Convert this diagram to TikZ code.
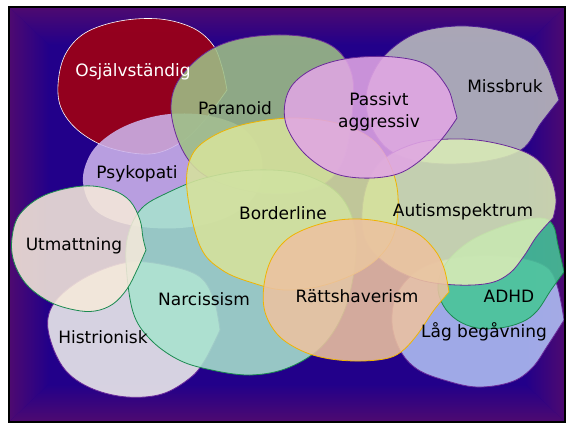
\documentclass[tikz,border=0pt]{standalone}
\usepackage{fontspec}
\setmainfont{DejaVu Sans}
\definecolor{bgblue}{HTML}{22008A}
\definecolor{edgep}{HTML}{4E0A70}
\definecolor{cRed}{HTML}{98001A}
\definecolor{cPsy}{RGB}{205,180,236}
\definecolor{cMis}{RGB}{187,189,190}
\definecolor{cPar}{RGB}{158,192,134}
\definecolor{cHis}{RGB}{240,240,238}
\definecolor{cNar}{RGB}{168,226,206}
\definecolor{cLag}{RGB}{177,193,245}
\definecolor{cAdh}{RGB}{70,198,150}
\definecolor{cAut}{RGB}{218,236,182}
\definecolor{cBor}{RGB}{214,226,156}
\definecolor{cPas}{RGB}{225,166,228}
\definecolor{cUtm}{RGB}{245,233,218}
\definecolor{cRat}{RGB}{236,194,160}
\definecolor{lPurple}{HTML}{6A2A9A}
\definecolor{lGreen}{HTML}{1A8A50}
\definecolor{lYellow}{HTML}{F0B400}
\begin{document}
\begin{tikzpicture}[x=1pt,y=-1pt,
  blob/.style={fill opacity=0.88, line width=0.8pt},
  lbl/.style={font=\fontsize{17}{22}\selectfont, text=black, inner sep=0pt, align=center}]
\useasboundingbox (0,0) rectangle (568,424);
\fill[white] (0,0) rectangle (568,424);
% background
\fill[bgblue] (9,7) rectangle (565,422);
\shade[top color=edgep, bottom color=bgblue] (9,7) -- (565,7) -- (525,45) -- (49,45) -- cycle;
\shade[left color=edgep, right color=bgblue] (9,7) -- (49,45) -- (49,384) -- (9,422) -- cycle;
\shade[left color=bgblue, right color=edgep] (565,7) -- (525,45) -- (525,384) -- (565,422) -- cycle;
\shade[top color=bgblue, bottom color=edgep] (49,384) -- (525,384) -- (565,422) -- (9,422) -- cycle;

% Osjalvstandig
\filldraw[blob, fill=cRed, draw=white, fill opacity=0.96, line width=0.6pt]
  plot[smooth, tension=0.6] coordinates {(227,90) (203,122) (180,143) (150,154) (110,148) (80,132) (62,110) (58,85) (65,55) (85,33) (120,21) (160,19) (193,28) (213,45) (222,67) (227,90)} -- cycle;
% Psykopati
\fill[blob, fill=cPsy]
  plot[smooth cycle, tension=0.6] coordinates {(83,182) (90,155) (108,136) (135,122) (170,114) (210,116) (245,130) (262,160) (255,195) (225,218) (180,228) (130,225) (95,210)};
% Missbruk
\filldraw[blob, fill=cMis, draw=lPurple!60!bgblue]
  plot[smooth, tension=0.6] coordinates {(559,100) (541,123) (521,150) (480,162) (430,163) (392,152) (372,128) (366,100) (372,75) (388,52) (417,33) (457,26) (497,30) (531,43) (547,66) (554,85) (559,100)} -- cycle;
% Paranoid
\filldraw[blob, fill=cPar, draw=lPurple]
  plot[smooth cycle, tension=0.6] coordinates {(171,108) (180,78) (210,50) (250,37) (300,36) (335,48) (352,75) (352,115) (343,160) (322,185) (280,194) (235,188) (200,172) (180,145)};
% Histrionisk
\filldraw[blob, fill=cHis, draw=lPurple]
  plot[smooth, tension=0.6] coordinates {(220,330) (205,360) (190,378) (162,394) (127,397) (93,389) (67,372) (52,345) (48,318) (60,296) (90,275) (130,262) (170,266) (200,277) (214,300) (220,330)} -- cycle;
% Narcissism
\filldraw[blob, fill=cNar, draw=lGreen]
  plot[smooth cycle, tension=0.6] coordinates {(126,262) (129,232) (142,208) (167,193) (205,178) (255,170) (305,175) (342,198) (356,240) (348,300) (325,343) (290,367) (250,375) (207,369) (177,359) (150,339) (133,312)};
% Lag begavning
\filldraw[blob, fill=cLag, draw=lPurple]
  plot[smooth, tension=0.6] coordinates {(564,320) (548,345) (532,368) (511,382) (477,387) (444,380) (417,369) (400,350) (392,322) (398,292) (422,268) (462,257) (512,257) (545,266) (557,285) (564,320)} -- cycle;
% ADHD
\filldraw[blob, fill=cAdh, draw=lGreen]
  plot[smooth, tension=0.6] coordinates {(564,272) (551,290) (537,311) (522,322) (500,328) (477,328) (457,320) (443,305) (438,285) (447,262) (472,240) (510,224) (540,218) (553,225) (558,245) (564,272)} -- cycle;
% Autismspektrum
\filldraw[blob, fill=cAut, draw=lPurple]
  plot[smooth, tension=0.6] coordinates {(553,218) (537,236) (524,256) (510,273) (490,283) (457,285) (420,280) (388,265) (367,243) (362,215) (368,182) (385,158) (417,143) (451,139) (484,141) (517,149) (538,160) (551,178) (556,200) (553,218)} -- cycle;
% Borderline
\filldraw[blob, fill=cBor, draw=lYellow]
  plot[smooth cycle, tension=0.6] coordinates {(187,190) (192,155) (215,135) (250,123) (295,118) (340,124) (375,142) (394,175) (398,210) (390,243) (365,268) (325,285) (285,290) (253,283) (222,270) (200,246)};
% Passivt aggressiv
\filldraw[blob, fill=cPas, draw=lPurple]
  plot[smooth, tension=0.6] coordinates {(457,118) (441,140) (417,163) (394,175) (361,178) (331,172) (304,153) (287,127) (285,103) (294,83) (317,67) (351,58) (394,57) (427,65) (447,87) (454,107) (457,118)} -- cycle;
% Utmattning
\filldraw[blob, fill=cUtm, draw=lGreen]
  plot[smooth, tension=0.6] coordinates {(146,250) (137,270) (127,289) (113,304) (95,311) (75,310) (50,302) (27,285) (14,262) (12,238) (20,214) (45,195) (83,186) (112,190) (130,201) (140,220) (143,238) (146,250)} -- cycle;
% Rattshaverism
\filldraw[blob, fill=cRat, draw=lYellow]
  plot[smooth, tension=0.6] coordinates {(449,292) (434,310) (417,335) (401,352) (384,359) (355,361) (325,358) (300,350) (278,335) (265,312) (264,285) (272,258) (290,237) (320,224) (351,219) (384,222) (415,232) (434,249) (444,268) (449,292)} -- cycle;

% labels
\node[lbl, text=white] (osj) at (133,72) {Osjälvständig};
\node[lbl] (par) at (235,108) {Paranoid};
\node[lbl] (psy) at (137,174) {Psykopati};
\node[lbl] (pas) at (379,112) {Passivt\\aggressiv};
\node[lbl] (mis) at (505,86) {Missbruk};
\node[lbl] (bor) at (283,213) {Borderline};
\node[lbl] (aut) at (463,212) {Autismspektrum};
\node[lbl] (utm) at (74,246) {Utmattning};
\node[lbl] (nar) at (204,299) {Narcissism};
\node[lbl] (his) at (103,337) {Histrionisk};
\node[lbl] (rat) at (357,296) {Rättshaverism};
\node[lbl] (adh) at (509,296) {ADHD};
\node[lbl] (lag) at (484,332) {Låg begåvning};

% frame
\draw[black, line width=2.5pt] (9,7) rectangle (565,422);
\end{tikzpicture}
\end{document}
